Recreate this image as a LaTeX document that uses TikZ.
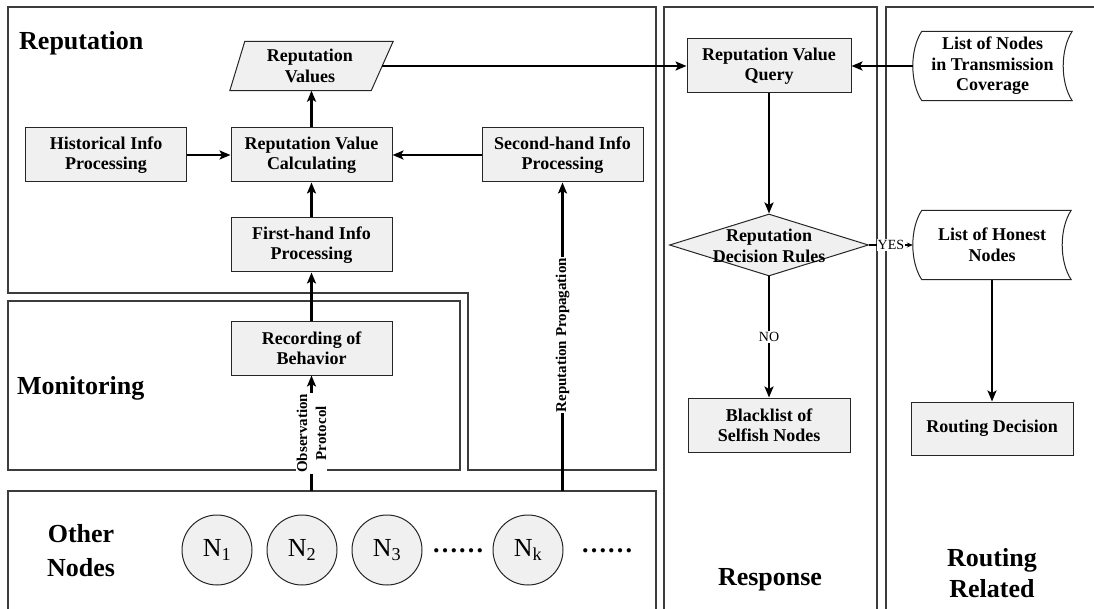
\documentclass[tikz,border=0pt]{standalone}
\usepackage{fontspec}
\setmainfont{Liberation Serif}
\usetikzlibrary{arrows.meta,shapes.geometric,calc}
\definecolor{boxgray}{RGB}{240,240,240}
\definecolor{framegray}{RGB}{60,60,60}
\begin{document}
\begin{tikzpicture}[x=1pt,y=-1pt,
  region/.style={draw=framegray, line width=1.2pt},
  procbox/.style={draw=black!85, line width=1pt, fill=boxgray, minimum width=161pt, minimum height=54pt, inner sep=0pt, align=center, font=\bfseries\fontsize{18}{20}\selectfont},
  plainbox/.style={inner sep=0pt, align=center, font=\bfseries\fontsize{18}{20.5}\selectfont},
  shapeline/.style={draw=black!85, line width=1pt},
  title/.style={font=\bfseries\fontsize{26}{31}\selectfont, inner sep=0pt, align=center},
  arr/.style={line width=2.6pt, -{Stealth[length=11pt,width=9pt,inset=2.5pt]}},
  elabel/.style={fill=white, inner sep=1pt, font=\bfseries\fontsize{15}{19}\selectfont, rotate=90, align=center},
  yn/.style={fill=white, inner sep=1pt, font=\fontsize{14}{14}\selectfont},
  peer/.style={circle, draw=black!85, line width=1pt, fill=boxgray, minimum size=70pt, inner sep=0pt, font=\fontsize{26}{26}\selectfont},
  dotrow/.style={inner sep=0pt, font=\bfseries\fontsize{26}{26}\selectfont}
]
\useasboundingbox (0,0) rectangle (1094,609);
\fill[white] (0,0) rectangle (1094,609);
\clip (0,0) rectangle (1094,609);

% regions
\draw[region] (8,7) -- (656,7) -- (656,470) -- (468,470) -- (468,293) -- (8,293) -- cycle;
\draw[region] (8,301) rectangle (460,470);
\draw[region] (8,491) rectangle (656,640);
\draw[region] (664,640) -- (664,7) -- (877,7) -- (877,640);
\draw[region] (886,640) -- (886,7) -- (1110,7) -- (1110,640);

% titles
\node[title, anchor=base west] (tRep) at (19,50) {Reputation};
\node[title, anchor=base west] (tMon) at (17,394) {Monitoring};
\node[title, align=center, font=\bfseries\fontsize{26}{34}\selectfont] (tOth) at (81,551) {Other\\Nodes};
\node[title, anchor=base] (tResp) at (770,585) {Response};
\node[title] (tRout) at (992,573) {Routing\\Related};

% reputation block
\node[procbox] (hist) at (106,155) {Historical Info\\Processing};
\node[procbox] (calc) at (311.5,155) {Reputation Value\\Calculating};
\node[procbox] (sec) at (562.5,155) {Second-hand Info\\Processing};
\node[procbox] (first) at (311.5,245) {First-hand Info\\Processing};
\node[plainbox, minimum width=144pt, minimum height=49pt] (vals) at (310,66) {Reputation\\Values};
\draw[shapeline, fill=boxgray] ($(vals.north west)+(7,0)$) -- ($(vals.north east)+(11,0)$) -- ($(vals.south east)+(-11,0)$) -- ($(vals.south west)+(-8,0)$) -- cycle;
\node[plainbox] at (vals.center) {Reputation\\Values};

% monitoring
\node[procbox, minimum height=53pt] (rec) at (311.5,348.5) {Recording of\\Behavior};

% response
\node[procbox, minimum width=164pt] (query) at (769,66) {Reputation Value\\Query};
\node[diamond, draw=black!85, line width=1pt, fill=boxgray, minimum width=199pt, minimum height=62pt, inner sep=0pt] (dec) at (769,245) {};
\node[plainbox] (dectext) at (769,246) {Reputation\\Decision Rules};
\node[procbox, minimum width=162pt] (black) at (769,425) {Blacklist of\\Selfish Nodes};

% routing related
\node[plainbox, minimum width=159pt, minimum height=69pt] (ln) at (992.5,66) {List of Nodes\\in Transmission\\Coverage};
\draw[shapeline] ($(ln.north west)+(9,0)$) -- (ln.north east)
  .. controls ($(ln.north east)+(-12,18)$) and ($(ln.south east)+(-12,-18)$) .. (ln.south east)
  -- ($(ln.south west)+(9,0)$)
  .. controls ($(ln.south west)+(-3,-18)$) and ($(ln.north west)+(-3,18)$) .. cycle;
\node[plainbox, minimum width=158pt, minimum height=69pt] (honest) at (992,245) {List of Honest\\Nodes};
\draw[shapeline] ($(honest.north west)+(9,0)$) -- (honest.north east)
  .. controls ($(honest.north east)+(-12,18)$) and ($(honest.south east)+(-12,-18)$) .. (honest.south east)
  -- ($(honest.south west)+(9,0)$)
  .. controls ($(honest.south west)+(-3,-18)$) and ($(honest.north west)+(-3,18)$) .. cycle;
\node[procbox, minimum width=162pt, minimum height=53pt] (route) at (992,428.5) {Routing Decision};

% other nodes
\node[peer] (n1) at (217,550) {N\textsubscript{1}};
\node[peer] (n2) at (302,550) {N\textsubscript{2}};
\node[peer] (n3) at (387,550) {N\textsubscript{3}};
\node[dotrow, anchor=base] (d1) at (458,552) {……};
\node[peer] (nk) at (528,550) {N\textsubscript{k}};
\node[dotrow, anchor=base] (d2) at (607,552) {……};

\coordinate (obs0) at (311.5,491);
\coordinate (prop0) at (562.5,491);

% connectors
\draw[arr] (hist.east) -- (calc.west);
\draw[arr] (sec.west) -- (calc.east);
\draw[arr] (first.north) -- (calc.south);
\draw[arr] (calc.north) -- (calc.north |- vals.south);
\draw[arr] (rec.north) -- (first.south);
\draw[arr] (vals.east) -- (query.west);
\draw[arr] (ln.west) -- (query.east);
\draw[arr] (query.south) -- (dec.north);
\draw[arr] (dec.south) -- node[yn] {NO} (black.north);
\draw[line width=2.6pt, -{Stealth[length=6pt,width=5pt]}] (dec.east) -- node[yn] {YES} (honest.west);
\draw[arr] (honest.south) -- (route.north);
\draw[arr] (obs0) -- node[elabel, pos=0.5] {Observation\\Protocol} (rec.south);
\draw[arr] (prop0) -- node[elabel, pos=0.505] {Reputation Propagation} (sec.south);
\end{tikzpicture}
\end{document}
